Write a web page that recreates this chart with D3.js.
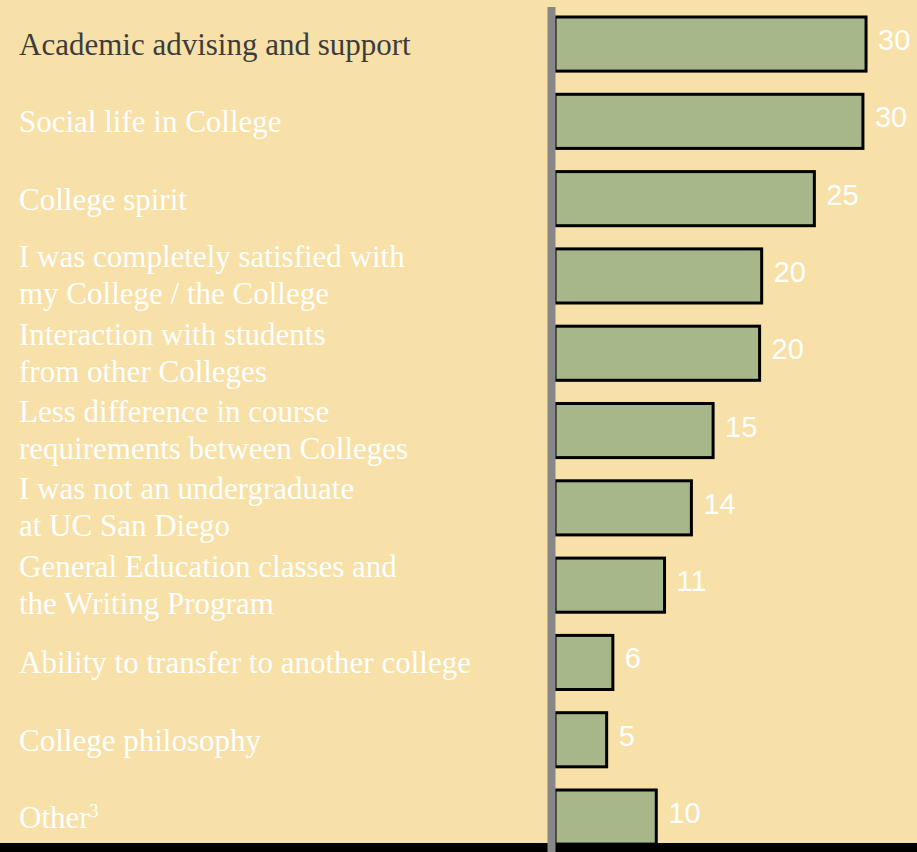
<!DOCTYPE html>
<html>
<head>
<meta charset="utf-8">
<script src="https://cdn.jsdelivr.net/npm/d3@7"></script>
<style>
  html, body { margin: 0; padding: 0; background: #f8e1a8; }
  svg { display: block; }
</style>
</head>
<body>
<svg id="chart"></svg>
<script>
'use strict';

// categories, one entry per bar (multi-line labels split into lines)
const categories = [
  ["Academic advising and support"],
  ["Social life in College"],
  ["College spirit"],
  ["I was completely satisfied with", "my College / the College"],
  ["Interaction with students", "from other Colleges"],
  ["Less difference in course", "requirements between Colleges"],
  ["I was not an undergraduate", "at UC San Diego"],
  ["General Education classes and", "the Writing Program"],
  ["Ability to transfer to another college"],
  ["College philosophy"],
  ["Other"]
];
// bar lengths
const values = [30.1, 29.8, 25.1, 20.0, 19.8, 15.3, 13.2, 10.6, 5.6, 5.0, 9.8];
// the printed value labels
const valueLabels = ["30", "30", "25", "20", "20", "15", "14", "11", "6", "5", "10"];

const width = 917, height = 852;

const svg = d3.select("#chart")
  .attr("width", width)
  .attr("height", height);

svg.append("rect")
  .attr("width", width).attr("height", height)
  .attr("fill", "#f8e1a8");

const y = d3.scaleBand()
  .domain(d3.range(categories.length))
  .range([5.4, 855.7])
  .paddingInner(0.3)
  .paddingOuter(0.15);

const x = d3.scaleLinear()
  .domain([0, 30])
  .range([555, 865]);

// bars
svg.selectAll(".bar")
  .data(values)
  .enter()
  .append("rect")
  .attr("class", "bar")
  .attr("x", x(0))
  .attr("y", (d, i) => y(i))
  .attr("width", d => x(d) - x(0))
  .attr("height", y.bandwidth())
  .attr("fill", "#a8b78a")
  .attr("stroke", "#000")
  .attr("stroke-width", 3);

// value labels
svg.selectAll(".val")
  .data(values)
  .enter()
  .append("text")
  .attr("class", "val")
  .attr("x", d => x(d) + 12)
  .attr("y", (d, i) => y(i) + y.bandwidth() / 2 + 6)
  .attr("fill", "#fff")
  .attr("font-family", "'Liberation Sans', Arial, sans-serif")
  .attr("font-size", 29)
  .text((d, i) => valueLabels[i]);

// category labels
const lineGap = 37;
const labels = svg.selectAll(".cat")
  .data(categories)
  .enter()
  .append("text")
  .attr("class", "cat")
  .attr("fill", (d, i) => i === 0 ? "#3c3c3c" : "#fff")
  .attr("font-family", "'Liberation Serif', 'Times New Roman', serif")
  .attr("font-size", 31);

labels.each(function(lines, i) {
  const cy = y(i) + y.bandwidth() / 2;
  const base = lines.length === 1 ? cy + 11 : cy + 10 - lineGap / 2;
  const t = d3.select(this);
  lines.forEach((line, j) => {
    t.append("tspan")
      .attr("x", 19)
      .attr("y", base + j * lineGap)
      .text(line);
  });
  if (i === categories.length - 1) {
    t.append("tspan")
      .attr("dy", -11)
      .attr("font-size", 18)
      .text("3");
  }
});

// black strip at the bottom
svg.append("rect")
  .attr("x", 0).attr("y", 843)
  .attr("width", width).attr("height", height - 843)
  .attr("fill", "#000");

// vertical axis line
svg.append("line")
  .attr("x1", 551.5).attr("x2", 551.5)
  .attr("y1", 7).attr("y2", height)
  .attr("stroke", "#878787")
  .attr("stroke-width", 8);
</script>
</body>
</html>
